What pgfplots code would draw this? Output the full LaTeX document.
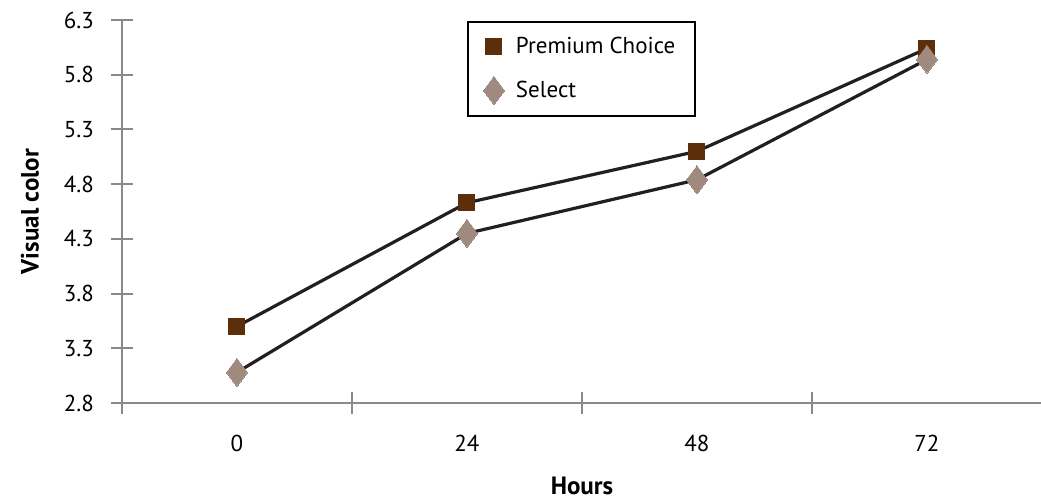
\documentclass[border=0pt]{standalone}
\usepackage{fontspec}
\setmainfont{PT Sans}
\usepackage{pgfplots}
\pgfplotsset{compat=1.18}
\definecolor{prem}{RGB}{92,46,10}
\definecolor{sel}{RGB}{160,138,128}
\definecolor{axgray}{RGB}{137,137,137}
\definecolor{lin}{RGB}{35,31,32}
\begin{document}
\begin{tikzpicture}
\useasboundingbox (0,0) rectangle (520.5pt,250pt);
\begin{axis}[
  at={(61pt,48.5pt)}, anchor=south west,
  width=460pt, height=191.5pt, scale only axis,
  xmin=-0.5, xmax=3.5, ymin=2.8, ymax=6.3,
  axis x line*=bottom, axis y line*=left,
  axis line style={axgray, line width=1pt},
  xtick={0,1,2,3}, xticklabels={0,24,48,72},
  major x tick style={draw=none},
  minor xtick={-0.5,0.5,1.5,2.5},
  minor x tick style={axgray, line width=1pt},
  minor tick length=11pt,
  ytick={2.8,3.3,3.8,4.3,4.8,5.3,5.8,6.3},
  y tick style={axgray, line width=1pt},
  major tick length=11pt,
  tick align=center,
  yticklabel style={/pgf/number format/fixed, /pgf/number format/precision=1, /pgf/number format/fixed zerofill, anchor=east, xshift=-5pt},
  /pgf/number format/assume math mode=true,
  xticklabel style={yshift=-7pt},
  tick label style={font=\fontsize{11.5pt}{13pt}\selectfont, text=black},
  xlabel={\textbf{Hours}}, ylabel={\textbf{Visual color}},
  label style={font=\fontsize{12.5pt}{14pt}\selectfont},
  xlabel style={at={(rel axis cs:0.5,0)}, anchor=center, yshift=-41.5pt},
  ylabel style={at={(rel axis cs:0,0.5)}, anchor=center, xshift=0pt, yshift=46pt},
  legend style={at={(rel axis cs:0.375,0.997)}, anchor=north west, draw=black, line width=1pt,
    font=\fontsize{11.5pt}{13pt}\selectfont, inner xsep=5pt, inner ysep=5.5pt,
    row sep=8pt, legend cell align=left},
  legend image code/.code={\path[draw=none] (0pt,0pt) -- (17pt,0pt); \draw[#1,only marks] plot coordinates {(8pt,0pt)};},
  clip=false,
]
\addplot[lin, line width=1.6pt, mark=square*, mark size=4pt, mark options={draw=prem, fill=prem, line width=0pt}]
  coordinates {(0,3.50) (1,4.63) (2,5.10) (3,6.04)};
\addlegendentry{Premium Choice\hspace*{3pt}}
\addplot[lin, line width=1.6pt, mark=diamond*, mark size=7pt, mark options={draw=sel, fill=sel, line width=0pt}]
  coordinates {(0,3.08) (1,4.35) (2,4.84) (3,5.94)};
\addlegendentry{Select}
\end{axis}
\end{tikzpicture}
\end{document}
